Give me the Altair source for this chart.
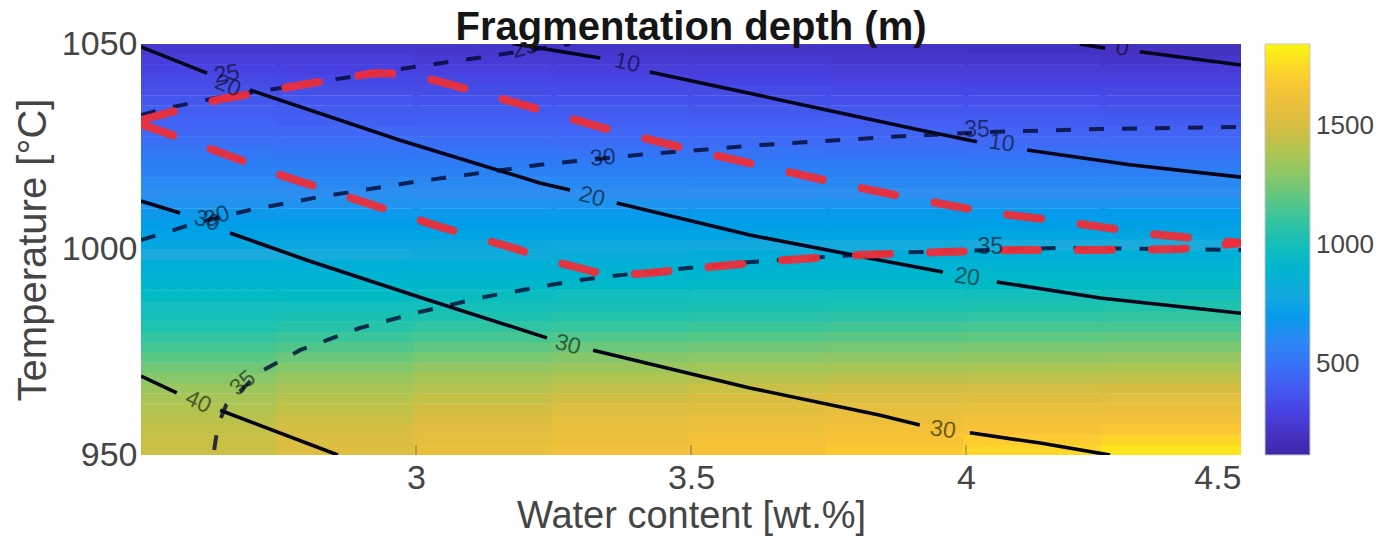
import altair as alt
import pandas as pd

# ---------------- heat map (fragmentation depth, m) ----------------
water_centers = [2.625, 2.875, 3.125, 3.375, 3.625, 3.875, 4.125, 4.375]
temp_centers = [951.25, 953.75, 956.25, 958.75, 961.25, 963.75, 966.25, 968.75,
                971.25, 973.75, 976.25, 978.75, 981.25, 983.75, 986.25, 988.75,
                991.25, 993.75, 996.25, 998.75, 1001.25, 1003.75, 1006.25, 1008.75,
                1011.25, 1013.75, 1016.25, 1018.75, 1021.25, 1023.75, 1026.25, 1028.75,
                1031.25, 1033.75, 1036.25, 1038.75, 1041.25, 1043.75, 1046.25, 1048.75]
depth_rows = [
    [1470, 1525, 1580, 1625, 1660, 1695, 1740, 1790],
    [1460, 1510, 1560, 1605, 1640, 1670, 1705, 1740],
    [1445, 1492, 1540, 1582, 1612, 1638, 1662, 1685],
    [1425, 1470, 1515, 1555, 1582, 1602, 1620, 1635],
    [1400, 1443, 1485, 1522, 1547, 1565, 1580, 1590],
    [1370, 1410, 1450, 1485, 1507, 1525, 1538, 1545],
    [1335, 1375, 1410, 1440, 1460, 1478, 1490, 1495],
    [1290, 1330, 1365, 1395, 1410, 1425, 1435, 1440],
    [1240, 1280, 1315, 1340, 1355, 1368, 1376, 1380],
    [1190, 1225, 1260, 1285, 1298, 1308, 1315, 1320],
    [1140, 1170, 1200, 1225, 1238, 1248, 1255, 1260],
    [1095, 1120, 1145, 1165, 1178, 1190, 1198, 1205],
    [1055, 1075, 1095, 1112, 1122, 1134, 1143, 1150],
    [1015, 1032, 1048, 1062, 1072, 1083, 1092, 1100],
    [980, 993, 1006, 1018, 1026, 1036, 1046, 1055],
    [945, 957, 968, 978, 985, 994, 1002, 1010],
    [910, 920, 930, 938, 945, 952, 959, 965],
    [875, 884, 892, 899, 905, 912, 918, 925],
    [845, 851, 857, 863, 869, 875, 880, 885],
    [810, 815, 821, 827, 833, 839, 845, 850],
    [780, 784, 788, 793, 798, 802, 806, 810],
    [750, 753, 756, 759, 763, 767, 771, 775],
    [720, 722, 725, 728, 731, 734, 737, 740],
    [690, 691, 693, 695, 697, 699, 702, 705],
    [660, 661, 663, 664, 666, 667, 668, 670],
    [630, 631, 633, 634, 635, 635, 635, 635],
    [605, 604, 602, 601, 600, 600, 600, 600],
    [575, 574, 572, 571, 569, 568, 566, 565],
    [550, 547, 544, 542, 539, 536, 533, 530],
    [520, 517, 514, 511, 508, 505, 502, 500],
    [495, 491, 487, 483, 479, 476, 473, 470],
    [470, 465, 460, 456, 452, 448, 444, 440],
    [440, 435, 430, 426, 422, 418, 414, 410],
    [415, 409, 403, 400, 396, 391, 385, 380],
    [390, 383, 376, 371, 366, 361, 355, 350],
    [360, 353, 346, 341, 336, 330, 325, 320],
    [335, 327, 319, 312, 306, 300, 295, 290],
    [305, 297, 290, 285, 278, 272, 266, 260],
    [280, 271, 262, 256, 249, 242, 236, 230],
    [250, 241, 233, 226, 218, 211, 205, 200],
]

# ---------------- contour lines (water wt.%, temperature C) ----------------
# solid black contours, split where the labels sit
c0_x = [4.207, 4.253, 4.316, 4.5]
c0_t = [1050.0, 1049.0, 1048.1, 1044.9]
c0_seg = [0, 0, 1, 1]

c10_x = [3.18, 3.335, 3.425, 3.662, 3.916, 4.02, 4.111, 4.298, 4.5]
c10_t = [1050.0, 1046.6, 1043.2, 1036.4, 1029.1, 1026.2, 1024.2, 1020.6, 1017.6]
c10_seg = [0, 0, 1, 1, 1, 1, 2, 2, 2]

c20_x = [2.5, 2.62, 2.698, 2.971, 3.225, 3.28, 3.365, 3.607, 3.844, 3.958, 4.056, 4.244, 4.5]
c20_t = [1049.3, 1042.9, 1038.8, 1026.6, 1016.2, 1014.5, 1011.3, 1003.5, 997.4, 994.5, 992.1, 988.2, 984.5]
c20_seg = [0, 0, 1, 1, 1, 1, 2, 2, 2, 2, 3, 3, 3]

c30_x = [2.5, 2.571, 2.662, 2.802, 3.007, 3.238, 3.322, 3.607, 3.844, 3.916, 4.007, 4.135, 4.262]
c30_t = [1011.8, 1008.9, 1004.0, 997.4, 988.4, 978.5, 975.5, 966.3, 959.7, 957.3, 955.4, 952.9, 950.0]
c30_seg = [0, 0, 1, 1, 1, 1, 2, 2, 2, 2, 3, 3, 3]

c40_x = [2.5, 2.565, 2.644, 2.858]
c40_t = [969.2, 965.1, 960.9, 950.0]
c40_seg = [0, 0, 1, 1]

# dashed dark contours
d25_x = [2.5, 2.547, 2.638, 2.825, 2.995, 3.111, 3.231, 3.28]
d25_t = [1032.7, 1034.4, 1036.9, 1040.8, 1044.4, 1046.6, 1049.0, 1050.0]

d30_x = [2.5, 2.607, 2.698, 2.825, 2.995, 3.225, 3.402, 3.625, 3.862, 4.044, 4.244, 4.5]
d30_t = [1002.3, 1006.7, 1009.6, 1012.8, 1016.4, 1020.6, 1023.0, 1025.4, 1027.4, 1028.6, 1029.3, 1029.8]

d35_x = [2.633, 2.64, 2.655, 2.716, 2.789, 2.898, 3.007, 3.122, 3.225, 3.298, 3.407, 3.584, 3.844, 4.171, 4.5]
d35_t = [951.2, 957.3, 962.2, 970.2, 975.5, 980.9, 984.8, 988.4, 990.9, 992.6, 994.3, 996.7, 999.1, 1000.4, 999.9]

# thick red dashed contours
red_up_x = [2.5, 2.638, 2.789, 2.922, 2.989, 3.067, 3.195, 3.34, 3.48, 3.62, 3.758, 3.898, 4.038, 4.184, 4.322, 4.5]
red_up_t = [1031.5, 1036.4, 1040.0, 1042.9, 1042.7, 1040.0, 1035.2, 1029.6, 1024.9, 1020.6, 1016.4, 1012.5, 1009.1, 1006.7, 1004.0, 1001.6]

red_low_x = [2.5, 2.598, 2.765, 2.904, 3.044, 3.176, 3.262, 3.353, 3.425, 3.529, 3.667, 3.813, 3.958, 4.098, 4.244, 4.389, 4.5]
red_low_t = [1030.5, 1025.9, 1017.6, 1011.6, 1005.5, 1000.4, 996.7, 993.6, 994.3, 995.7, 997.4, 998.7, 999.4, 999.9, 999.9, 1000.1, 1001.6]

# contour labels
label_text = ["0", "10", "10", "20", "20", "20", "30", "30", "30", "40",
              "25", "25", "30", "30", "35", "35", "35"]
label_x = [4.284, 3.384, 4.065, 2.658, 3.32, 4.002, 2.62, 3.276, 3.958, 2.604,
           2.656, 3.198, 2.638, 3.34, 4.02, 2.685, 4.044]
label_t = [1049.0, 1045.4, 1025.9, 1039.8, 1012.8, 993.3, 1007.0, 976.8, 956.1, 962.9,
           1042.7, 1049.0, 1008.0, 1022.3, 1029.0, 967.5, 1000.6]
label_angle = [10, 12, 8, 22, 15, 8, 18, 15, 8, 25,
               350, 345, 340, 355, 0, 320, 0]

x_ticks = [3, 3.5, 4]

# ---------------- build tables ----------------
HX, HT = 0.13, 1.3  # half cell sizes, slightly overlapping to hide seams
cells = []
for i, tc in enumerate(temp_centers):
    for j, xc in enumerate(water_centers):
        cells.append({"x0": max(2.5, xc - HX), "x1": min(4.5, xc + HX),
                      "t0": max(950, tc - HT), "t1": min(1050, tc + HT),
                      "depth": depth_rows[i][j]})
heat_df = pd.DataFrame(cells)


def line_rows(name, xs, ts, segs=None):
    out = []
    for k, (a, b) in enumerate(zip(xs, ts)):
        s = 0 if segs is None else segs[k]
        out.append({"x": a, "t": b, "grp": f"{name}_{s}", "i": k})
    return out


solid_df = pd.DataFrame(
    line_rows("c0", c0_x, c0_t, c0_seg) + line_rows("c10", c10_x, c10_t, c10_seg)
    + line_rows("c20", c20_x, c20_t, c20_seg) + line_rows("c30", c30_x, c30_t, c30_seg)
    + line_rows("c40", c40_x, c40_t, c40_seg))
dash_df = pd.DataFrame(
    line_rows("d25", d25_x, d25_t) + line_rows("d30", d30_x, d30_t)
    + line_rows("d35", d35_x, d35_t))
red_df = pd.DataFrame(
    line_rows("ru", red_up_x, red_up_t) + line_rows("rl", red_low_x, red_low_t))
label_df = pd.DataFrame({"x": label_x, "t": label_t, "txt": label_text, "ang": label_angle})
tick_df = pd.DataFrame({"x": x_ticks})

# ---------------- scales ----------------
parula = ["#3e26a8", "#4840e0", "#4268f6", "#2e8ff0", "#1aaadc", "#16bdbf",
          "#4ac68f", "#98c660", "#d8bd42", "#fbc236", "#f9f70f"]
c_lo, c_hi = 120, 1845
dom = [c_lo + k * (c_hi - c_lo) / 10 for k in range(11)]
color_scale = alt.Scale(domain=dom, range=parula, clamp=True)

FONT = "Liberation Sans"
xs = alt.Scale(domain=[2.5, 4.5], nice=False, zero=False)
ys = alt.Scale(domain=[950, 1050], nice=False, zero=False)

x_axis = alt.Axis(values=[3, 3.5, 4, 4.5], format="~g", title="Water content [wt.%]",
                  labelPadding=6, titlePadding=2, titleFontSize=38)
y_axis = alt.Axis(values=[950, 1000, 1050], format="d", title="Temperature [°C]",
                  labelPadding=4, titlePadding=8, titleFontSize=40)

heat = alt.Chart(heat_df).mark_rect().encode(
    x=alt.X("x0:Q", scale=xs, axis=x_axis),
    x2="x1:Q",
    y=alt.Y("t0:Q", scale=ys, axis=y_axis),
    y2="t1:Q",
    color=alt.Color("depth:Q", scale=color_scale, title="",
                    legend=alt.Legend(type="gradient", orient="none", legendX=1124, legendY=0,
                                      direction="vertical", gradientLength=411,
                                      gradientThickness=45, values=[500, 1000, 1500],
                                      format="d",
                                      labelFontSize=26, labelFont=FONT, labelColor="#454545",
                                      labelOffset=6, labelOverlap=False, padding=0,
                                      titlePadding=0, titleFontSize=1,
                                      gradientStrokeColor="#c8c8c8", gradientStrokeWidth=1)),
)

solid = alt.Chart(solid_df).mark_line(color="#05051a", strokeWidth=3.6, clip=True).encode(
    x=alt.X("x:Q", scale=xs), y=alt.Y("t:Q", scale=ys),
    detail="grp:N", order="i:Q")

dashed = alt.Chart(dash_df).mark_line(color="#020830", opacity=0.8, strokeWidth=4,
                                      strokeDash=[15, 18], clip=True).encode(
    x=alt.X("x:Q", scale=xs), y=alt.Y("t:Q", scale=ys),
    detail="grp:N", order="i:Q")

red = alt.Chart(red_df).mark_line(color="#ec2e3a", opacity=0.95, strokeWidth=8,
                                  strokeDash=[34, 40], strokeCap="round", clip=True).encode(
    x=alt.X("x:Q", scale=xs), y=alt.Y("t:Q", scale=ys),
    detail="grp:N", order="i:Q")

labels = alt.Chart(label_df).mark_text(font=FONT, fontSize=23, color="#000000",
                                       opacity=0.55, clip=True).encode(
    x=alt.X("x:Q", scale=xs), y=alt.Y("t:Q", scale=ys), text="txt:N",
    angle=alt.Angle("ang:Q", scale=None))

ticks = alt.Chart(tick_df).mark_rule(color="#505050", strokeWidth=1, opacity=0.7).encode(
    x=alt.X("x:Q", scale=xs), y=alt.value(411), y2=alt.value(401))

chart = alt.layer(heat, solid, dashed, red, labels, ticks).properties(
    width=1100, height=411,
    autosize=alt.AutoSizeParams(type="none"),
    padding={"left": 133, "top": 36, "right": 134, "bottom": 82},
    title=alt.Title("Fragmentation depth (m)", fontSize=40, font=FONT, fontWeight="bold",
                    color="#151515", anchor="middle", offset=4, dy=25),
).configure_view(strokeWidth=0).configure_axis(
    labelFont=FONT, labelFontSize=34, labelColor="#454545",
    titleFont=FONT, titleFontWeight="normal", titleColor="#454545",
    domain=False, ticks=False, grid=False,
)

chart.save("out.html", embed_options={"renderer": "svg", "actions": False})
